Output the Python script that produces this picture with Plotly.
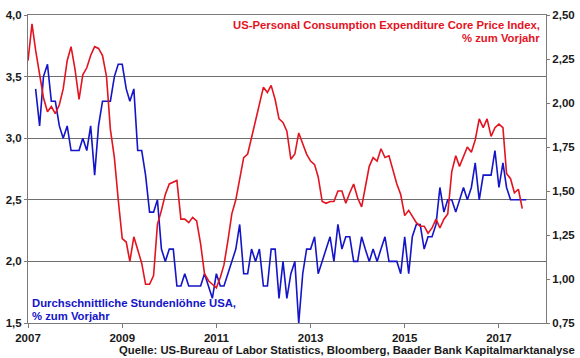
import plotly.graph_objects as go
import pandas as pd

# PCE core price index, % y/y (right axis), monthly from Jan 2007
pce_start = "2007-01-01"
pce_values = [
    2.24, 2.45, 2.30, 2.17, 2.03, 1.95, 1.98, 1.94, 1.99, 2.08, 2.24, 2.32,
    2.19, 2.02, 2.16, 2.20, 2.27, 2.32, 2.31, 2.27, 2.15, 1.85, 1.69, 1.45,
    1.23, 1.21, 1.10, 1.24, 1.16, 1.09, 0.97, 0.97, 1.02, 1.31, 1.39, 1.48,
    1.54, 1.55, 1.56, 1.34, 1.34, 1.32, 1.35, 1.33, 1.20, 1.03, 0.99, 0.97,
    0.95, 1.01, 1.08, 1.22, 1.37, 1.45, 1.56, 1.69, 1.71, 1.80, 1.90, 1.98,
    2.09, 2.06, 2.10, 2.02, 1.91, 1.89, 1.84, 1.68, 1.71, 1.83, 1.77, 1.71,
    1.67, 1.65, 1.58, 1.44, 1.43, 1.44, 1.44, 1.50, 1.50, 1.43, 1.49, 1.54,
    1.46, 1.41, 1.52, 1.64, 1.69, 1.67, 1.74, 1.69, 1.70, 1.62, 1.54, 1.48,
    1.36, 1.39, 1.36, 1.32, 1.30, 1.30, 1.26, 1.29, 1.34, 1.29, 1.34, 1.37,
    1.61, 1.70, 1.64, 1.70, 1.75, 1.72, 1.79, 1.91, 1.86, 1.91, 1.81, 1.86,
    1.88, 1.86, 1.60, 1.57, 1.49, 1.51, 1.40,
]

# Average hourly earnings, % y/y (left axis), monthly from Mar 2007
wage_start = "2007-03-01"
wage_values = [
    3.4, 3.1, 3.5, 3.6, 3.3, 3.3, 3.1, 3.0, 3.1, 2.9,
    2.9, 2.9, 3.0, 2.9, 3.1, 2.7, 3.1, 3.3, 3.3, 3.3,
    3.5, 3.6, 3.6, 3.4, 3.3, 3.4, 2.9, 2.9, 2.7, 2.4,
    2.4, 2.5, 2.1, 2.0, 2.1, 2.1, 1.8, 1.8, 1.9, 1.8,
    1.8, 1.8, 1.8, 1.9, 1.8, 1.7, 1.9, 1.8, 1.8, 1.9,
    2.0, 2.1, 2.3, 1.9, 1.9, 2.1, 2.0, 2.1, 1.8, 1.8,
    2.1, 2.1, 1.7, 2.0, 1.7, 1.9, 2.0, 1.5, 1.9, 2.1,
    2.1, 2.2, 1.9, 2.0, 2.1, 2.2, 2.0, 2.3, 2.1, 2.2,
    2.2, 2.0, 2.0, 2.2, 2.1, 2.0, 2.1, 2.0, 2.1, 2.2,
    2.0, 2.0, 2.0, 1.9, 2.2, 1.9, 2.2, 2.3, 2.3, 2.1,
    2.2, 2.2, 2.3, 2.6, 2.4, 2.5, 2.5, 2.4, 2.5, 2.6,
    2.5, 2.6, 2.8, 2.5, 2.7, 2.7, 2.7, 2.9, 2.6, 2.8,
    2.6, 2.5, 2.5, 2.5, 2.5, 2.5,
]

x_tick_years = ["2007", "2009", "2011", "2013", "2015", "2017"]
left_ticks = [1.5, 2.0, 2.5, 3.0, 3.5, 4.0]
right_ticks = [0.75, 1.0, 1.25, 1.5, 1.75, 2.0, 2.25, 2.5]

pce_dates = pd.date_range(pce_start, periods=len(pce_values), freq="MS")
wage_dates = pd.date_range(wage_start, periods=len(wage_values), freq="MS")

RED = "#e3141f"
BLUE = "#1414c8"
FONT = "Liberation Sans, Arial, sans-serif"
AXIS_GRAY = "#7a7a7a"

fig = go.Figure()
fig.add_trace(go.Scatter(x=pce_dates, y=pce_values, yaxis="y2", mode="lines",
                         line=dict(color=RED, width=1.6), showlegend=False))
fig.add_trace(go.Scatter(x=wage_dates, y=wage_values, yaxis="y", mode="lines",
                         line=dict(color=BLUE, width=1.6), showlegend=False))

tick_font = dict(family=FONT, size=11.5, color="#1a1a1a", weight="bold")

fig.update_layout(
    width=580, height=358,
    margin=dict(l=28, r=34, t=15, b=35, autoexpand=False),
    paper_bgcolor="white", plot_bgcolor="white",
    font=dict(family=FONT),
    xaxis=dict(
        type="date",
        range=["2007-01-01", "2018-01-01"],
        tickvals=[f"{y}-01-01" for y in x_tick_years],
        ticktext=x_tick_years,
        tickfont=tick_font, automargin=False,
        showgrid=False, zeroline=False,
        showline=True, linecolor=AXIS_GRAY, linewidth=1, mirror=True,
        ticks="outside", ticklen=4, tickcolor=AXIS_GRAY,
    ),
    yaxis=dict(
        range=[1.5, 4.0],
        tickvals=left_ticks,
        ticktext=[f"{v:.1f}".replace(".", ",") for v in left_ticks],
        tickfont=tick_font, automargin=False,
        showgrid=True, gridcolor="#6e6e6e", gridwidth=1,
        zeroline=False, showline=True, linecolor=AXIS_GRAY,
        ticks="outside", ticklen=3, tickcolor=AXIS_GRAY,
    ),
    yaxis2=dict(
        range=[0.75, 2.5],
        tickvals=right_ticks,
        ticktext=[f"{v:.2f}".replace(".", ",") for v in right_ticks],
        overlaying="y", side="right",
        tickfont=tick_font, automargin=False,
        showgrid=False, zeroline=False, showline=True, linecolor=AXIS_GRAY,
        ticks="outside", ticklen=3, tickcolor=AXIS_GRAY,
    ),
)

ANN_SIZE = 11.3
ann_font_red = dict(family=FONT, size=ANN_SIZE, color=RED, weight="bold")
ann_font_blue = dict(family=FONT, size=ANN_SIZE, color=BLUE, weight="bold")

fig.add_annotation(xref="paper", yref="paper", x=0.992, y=0.9675,
                   xanchor="right", yanchor="middle", showarrow=False,
                   text="US-Personal Consumption Expenditure Core Price Index,",
                   font=ann_font_red)
fig.add_annotation(xref="paper", yref="paper", x=0.992, y=0.925,
                   xanchor="right", yanchor="middle", showarrow=False,
                   text="% zum Vorjahr", font=ann_font_red)
fig.add_annotation(xref="paper", yref="paper", x=0.004, y=0.065,
                   xanchor="left", yanchor="middle", showarrow=False,
                   text="Durchschnittliche Stundenlöhne USA,", font=ann_font_blue)
fig.add_annotation(xref="paper", yref="paper", x=0.004, y=0.0227,
                   xanchor="left", yanchor="middle", showarrow=False,
                   text="% zum Vorjahr", font=ann_font_blue)
fig.add_annotation(xref="paper", yref="paper", x=1.06, y=-0.0877,
                   xanchor="right", yanchor="middle", showarrow=False,
                   text="Quelle: US-Bureau of Labor Statistics, Bloomberg, Baader Bank Kapitalmarktanalyse",
                   font=dict(family=FONT, size=ANN_SIZE, color="#1a1a1a", weight="bold"))

fig.write_html("out.html", config={"displayModeBar": False},
               post_script="document.body.style.margin='0';")
